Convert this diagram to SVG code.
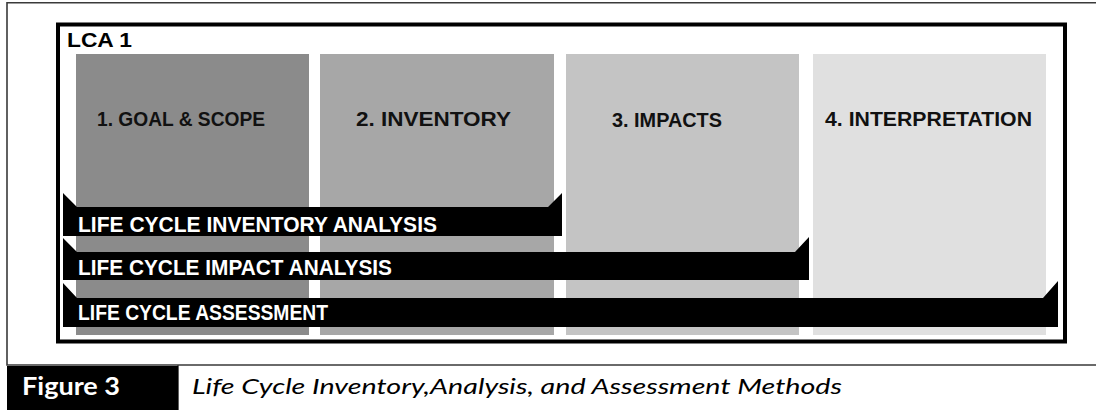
<svg xmlns="http://www.w3.org/2000/svg" width="1096" height="410" viewBox="0 0 1096 410">
<style>
.rule{stroke:#3a3a3a;stroke-width:1.6;fill:none}
.stage-label{font-family:"Liberation Sans",Arial,sans-serif;font-weight:bold;font-size:20px;fill:#111}
.bar{fill:#000}
.bar-label{font-family:"Liberation Sans",Arial,sans-serif;font-weight:bold;font-size:22px;fill:#fff}
</style>
<rect width="1096" height="410" fill="#fff"/>
<g id="page-frame">
<path class="rule" d="M1096,2.7 H7 V365 H1096 M178,365 V410"/>
</g>
<g id="lca-frame">
<rect x="58" y="24.5" width="1007" height="317" fill="none" stroke="#000" stroke-width="4"/>
<text x="67" y="47" font-family="Liberation Sans,Arial,sans-serif" font-weight="bold" font-size="21" fill="#000" textLength="65" lengthAdjust="spacingAndGlyphs">LCA 1</text>
</g>
<g id="stage-1">
<rect x="76" y="54" width="233" height="281" fill="#8b8b8b"/>
<text class="stage-label" x="97" y="126" textLength="168" lengthAdjust="spacingAndGlyphs">1. GOAL &amp; SCOPE</text>
</g>
<g id="stage-2">
<rect x="320" y="54" width="234" height="281" fill="#a7a7a7"/>
<text class="stage-label" x="356" y="126" textLength="155" lengthAdjust="spacingAndGlyphs">2. INVENTORY</text>
</g>
<g id="stage-3">
<rect x="566" y="54" width="233" height="281" fill="#c4c4c4"/>
<text class="stage-label" x="612" y="127" textLength="110" lengthAdjust="spacingAndGlyphs">3. IMPACTS</text>
</g>
<g id="stage-4">
<rect x="813" y="54" width="233" height="281" fill="#e0e0e0"/>
<text class="stage-label" x="825" y="126" textLength="207" lengthAdjust="spacingAndGlyphs">4. INTERPRETATION</text>
</g>
<g id="bar-inventory-analysis">
<path class="bar" d="M63,193 L77,207 L548,207 L562,193 L562,236 L63,236 Z"/>
<text class="bar-label" x="78" y="232" textLength="359" lengthAdjust="spacingAndGlyphs">LIFE CYCLE INVENTORY ANALYSIS</text>
</g>
<g id="bar-impact-analysis">
<path class="bar" d="M63,238 L77,252 L795,252 L809,237 L809,280 L63,280 Z"/>
<text class="bar-label" x="78" y="275" textLength="314" lengthAdjust="spacingAndGlyphs">LIFE CYCLE IMPACT ANALYSIS</text>
</g>
<g id="bar-assessment">
<path class="bar" d="M63,283 L77,298 L1043,298 L1058,281 L1058,327 L63,327 Z"/>
<text class="bar-label" x="78" y="320" textLength="250" lengthAdjust="spacingAndGlyphs">LIFE CYCLE ASSESSMENT</text>
</g>
<g id="caption">
<rect x="7" y="366" width="171" height="44" fill="#000"/>
<text x="22" y="395" font-family="Lato,Open Sans,sans-serif" font-weight="bold" font-size="24" fill="#fff" textLength="98" lengthAdjust="spacingAndGlyphs">Figure 3</text>
<text x="192" y="394" font-family="Lato,Open Sans,sans-serif" font-style="italic" font-size="22" fill="#000" textLength="650" lengthAdjust="spacingAndGlyphs">Life Cycle Inventory,Analysis, and Assessment Methods</text>
</g>
</svg>
